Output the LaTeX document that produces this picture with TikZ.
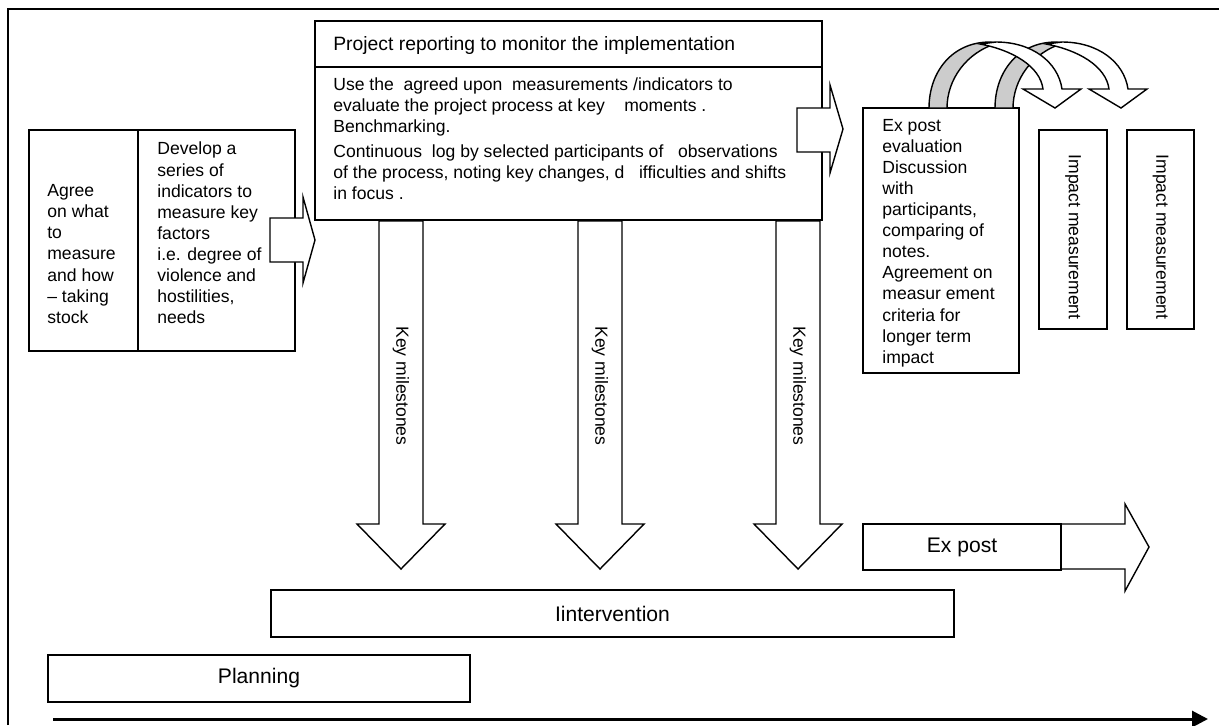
\documentclass[tikz,border=0pt]{standalone}
\usepackage{fontspec}
\setmainfont{Liberation Sans}
\usetikzlibrary{arrows.meta}

\begin{document}
\begin{tikzpicture}[
		x=0.02cm, y=-0.02cm,
		every node/.style={inner sep=0pt, font=\fontsize{10}{12}\selectfont},
		box/.style={draw, line width=0.8pt, fill=white},
		bigbox/.style={box, font=\fontsize{12}{14}\selectfont},
		txt/.style={align=left, anchor=west},
		blockarrow/.style={draw, line width=0.8pt, fill=white, line join=miter},
		backside/.style={draw, line width=0.8pt, fill=black!20}
	]
  \useasboundingbox (0,0) rectangle (1219,725);
  \draw[line width=1.1pt] (8,725) -- (8,9) -- (1219,9);

  \draw[box] (29,130) rectangle (138,351);
  \draw[box] (138,130) rectangle (295,351);
  \node (agree) [txt] at (47,254) {Agree\\on what\\to\\measure\\and how\\– taking\\stock};
  \node (develop) [txt] at (157,233) {Develop a\\series of\\indicators to\\measure key\\factors\\i.e. degree of\\violence and\\hostilities,\\needs};
  \draw[blockarrow] (270,218) -- (303,218) -- (303,197) -- (315,240) -- (303,283) -- (303,262) -- (270,262) -- cycle;

  \draw[box] (315,21) rectangle (822,220);
  \draw[line width=0.8pt] (315,67) -- (822,67);
  \node (report) [txt, font=\fontsize{11}{13}\selectfont] at (333,45) {Project reporting to monitor the implementation};
  \node (use) [txt] at (333,139) {Use the~~agreed upon~~measurements /indicators to\\evaluate the project process at key~~~~moments .\\Benchmarking.\\[2pt]Continuous~~log by selected participants of~~~observations\\of the process, noting key changes, d~~~ifficulties and shifts\\in focus .};

  \foreach \cx/\i in {401/1, 600/2, 798/3} {
    \draw[blockarrow] (\cx-22,221) -- (\cx+22,221) -- (\cx+22,524) -- (\cx+44,524) -- (\cx,569) -- (\cx-44,524) -- (\cx-22,524) -- cycle;
    \node (km\i) [rotate=-90] at (\cx,386) {Key milestones};
  }

  \draw[box] (863,108) rectangle (1019,373);
  \node (eval) [txt] at (882,243) {Ex post\\evaluation\\Discussion\\with\\participants,\\comparing of\\notes.\\Agreement on\\measur ement\\criteria for\\longer term\\impact};
  \draw[blockarrow] (797,108) -- (830,108) -- (830,85) -- (843,129) -- (830,173) -- (830,152) -- (797,152) -- cycle;

  \foreach \dx in {66,0} {
    \begin{scope}[shift={(\dx,0)}]
      \draw[backside] (929,108) .. controls (929,72) and (952,42) .. (990,42) -- (998,43) .. controls (966,52) and (947,80) .. (947,108) -- cycle;
      \draw[blockarrow] (1062,89) .. controls (1058,62) and (1032,42) .. (996,42) -- (980,44) .. controls (1012,50) and (1040,66) .. (1043,89) -- (1023,89) -- (1055,108) -- (1081,89) -- cycle;
    \end{scope}
  }

  \draw[box] (1039,130) rectangle (1107,329);
  \draw[box] (1127,130) rectangle (1194,329);
  \node (impact1) [rotate=-90] at (1073,237) {Impact measurement};
  \node (impact2) [rotate=-90] at (1160.5,237) {Impact measurement};

  \draw[blockarrow] (863,524) -- (1125,524) -- (1125,504) -- (1149,547) -- (1125,591) -- (1125,569) -- (863,569) -- cycle;
  \node (expost) [bigbox, minimum width=3.96cm, minimum height=0.92cm] at (962,547) {Ex post};
  \node (interv) [bigbox, minimum width=13.66cm, minimum height=0.94cm] at (612.5,613.5) {Iintervention};
  \node (plan) [bigbox, minimum width=8.44cm, minimum height=0.94cm] at (259,678.5) {Planning};

  \coordinate (t0) at (53,719);
  \coordinate (t1) at (1208,719);
  \draw[line width=1.7pt, -{Triangle[length=9pt, width=9pt]}] (t0) -- (t1);
\end{tikzpicture}
\end{document}
